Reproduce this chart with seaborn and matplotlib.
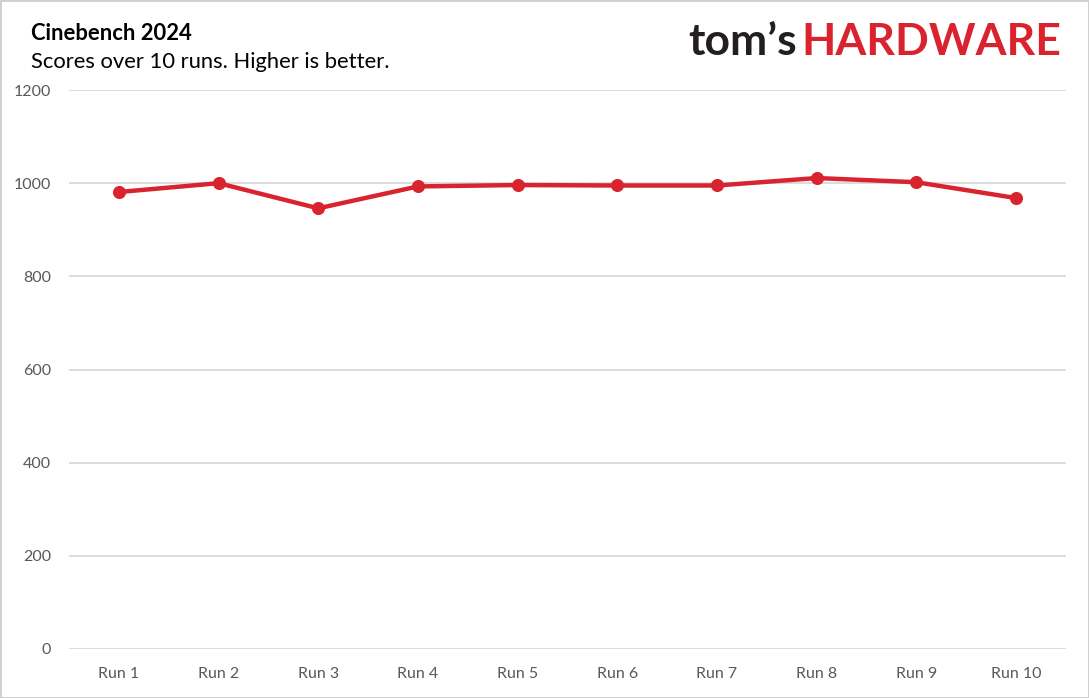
import matplotlib
matplotlib.use("Agg")
import matplotlib.pyplot as plt
import seaborn as sns

runs = ["Run 1", "Run 2", "Run 3", "Run 4", "Run 5", "Run 6", "Run 7", "Run 8", "Run 9", "Run 10"]
scores = [981, 1000, 946, 993, 996, 995, 995, 1011, 1002, 968]
y_ticks = [0, 200, 400, 600, 800, 1000, 1200]

title = "Cinebench 2024"
subtitle = "Scores over 10 runs. Higher is better."

sns.set_theme(style="white")
plt.rcParams["font.family"] = ["Lato", "DejaVu Sans"]

RED = "#d9232e"
GRID = "#d9d9d9"
TICK = "#595959"

fig = plt.figure(figsize=(10.89, 6.98), dpi=100, facecolor="white",
                 edgecolor="#d0d0d0", linewidth=2)
ax = fig.add_axes([69 / 1089, 1 - 649 / 698, (1066 - 69) / 1089, (649 - 90) / 698])

sns.pointplot(x=runs, y=scores, color=RED, markers="o", markersize=7,
              linewidth=3.2, ax=ax, errorbar=None)

ax.set_xlim(-0.5, len(runs) - 0.5)
ax.set_ylim(0, 1200)
ax.set_yticks(y_ticks)
ax.yaxis.grid(True, color=GRID, linewidth=1.3)
ax.set_axisbelow(True)
for s in ax.spines.values():
    s.set_visible(False)
ax.tick_params(axis="both", length=0, labelsize=11.5, labelcolor=TICK)
ax.tick_params(axis="y", pad=13)
ax.tick_params(axis="x", pad=13)
ax.set_xlabel("")
ax.set_ylabel("")

fig.text(31 / 1089, 1 - 34 / 698, title, fontsize=15.8, fontweight="bold",
         color="#000000", va="center", ha="left")
fig.text(31 / 1089, 1 - 62 / 698, subtitle, fontsize=15.8, color="#000000",
         va="center", ha="left")

t1 = fig.text(688 / 1089, 1 - 42 / 698, "tom’s", fontsize=32, fontweight="bold",
              color="#231f20", va="center", ha="left")
fig.canvas.draw()
bb = t1.get_window_extent()
fig.text((bb.x1 + 5) / 1089, 1 - 42 / 698, "HARDWARE", fontsize=32, fontweight="bold",
         color=RED, va="center", ha="left")

fig.savefig("out.png", dpi=100, facecolor="white", edgecolor=fig.get_edgecolor())
